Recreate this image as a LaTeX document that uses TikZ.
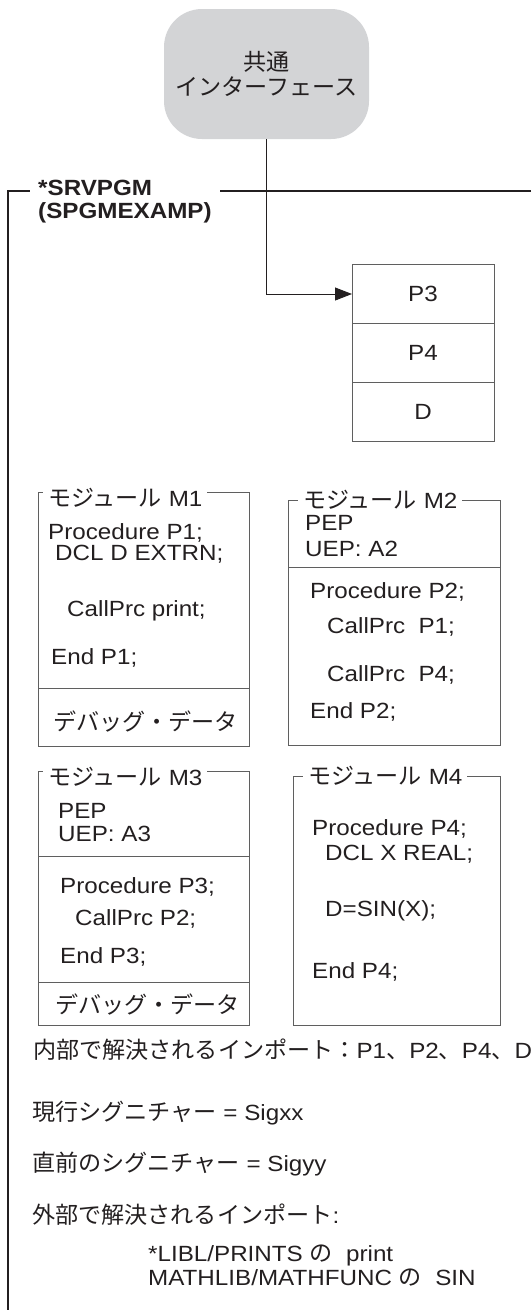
\documentclass[tikz,border=0pt]{standalone}
\usepackage{fontspec}
\setmainfont{Liberation Sans}[FakeStretch=1.1]
\newfontfamily\jp{Noto Sans CJK JP}[Scale=1.05]
\usetikzlibrary{positioning, arrows.meta}
\definecolor{ink}{HTML}{231F20}
\definecolor{rule}{HTML}{5F5F5F}
\definecolor{ifgray}{HTML}{D3D4D6}

\begin{document}
\begin{tikzpicture}[x=1pt,y=-1pt,font=\fontsize{22}{24}\selectfont,text=ink,
box/.style={draw=rule, line width=0.9pt, anchor=north west, inner sep=0pt, outer sep=0pt},
modtitle/.style={fill=white, inner xsep=5pt, inner ysep=1pt, anchor=west},
code/.style={anchor=base west, inner sep=0pt},
exp/.style={draw=rule, line width=0.9pt, minimum width=142pt, minimum height=59pt, inner sep=0pt, outer sep=0pt},
conn/.style={draw=ink, line width=0.9pt, -{Triangle[length=17pt,width=13pt]}}]
\useasboundingbox (0,0) rectangle (531,1310);
% interface and service program frame
\node[fill=ifgray, rounded corners=38pt, minimum width=205pt, minimum height=130pt, align=center, font=\jp\fontsize{22}{25}\selectfont] (iface) at (266.5,74) {共通\\インターフェース};
\coordinate (ftr) at (531,191); \coordinate (fbl) at (8,1310);
\draw[ink, line width=1.2pt] (ftr) -| (fbl);
\node[fill=white, anchor=north west, align=left, inner xsep=8pt, inner ysep=2pt, font=\bfseries\fontsize{22}{23}\selectfont] (srv) at (30,178) {*SRVPGM\\(SPGMEXAMP)};
% exports
\node[exp] (p3) at (423,294) {P3};
\node[exp, below=0pt of p3] (p4) {P4};
\node[exp, below=0pt of p4] (d) {D};
\draw[conn] (iface.south) |- (p3.west);
% modules
\node[box, minimum width=211pt, minimum height=254pt] (m1) at (38,492) {};
\node[box, minimum width=212pt, minimum height=245pt] (m2) at (288,500) {};
\node[box, minimum width=211pt, minimum height=254pt] (m3) at (38,771) {};
\node[box, minimum width=207pt, minimum height=249pt] (m4) at (293,776) {};
\draw[rule, line width=0.9pt] (m1.west |- 0,688) -- (m1.east |- 0,688);
\draw[rule, line width=0.9pt] (m2.west |- 0,567) -- (m2.east |- 0,567);
\draw[rule, line width=0.9pt] (m3.west |- 0,856) -- (m3.east |- 0,856);
\draw[rule, line width=0.9pt] (m3.west |- 0,982) -- (m3.east |- 0,982);
\node[modtitle] (m1t) at ([xshift=5pt,yshift=-6pt]m1.north west) {{\jp モジュール} M1\hspace{6pt}};
\node[modtitle] (m2t) at ([xshift=10pt]m2.north west) {{\jp モジュール} M2};
\node[modtitle] (m3t) at ([xshift=5pt,yshift=-6pt]m3.north west) {{\jp モジュール} M3\hspace{5pt}};
\node[modtitle] (m4t) at ([xshift=10pt]m4.north west) {{\jp モジュール} M4};
\foreach \n/\x/\y/\t in {a/48/539/{Procedure P1;}, b/55/560/{DCL D EXTRN;}, c/67/616/{CallPrc print;}, d/51/664/{End P1;}}
  \node[code] (m1\n) at (\x,\y) {\t};
\node[code] (m1dbg) at (53,730) {\jp デバッグ・データ};
\foreach \n/\x/\y/\t in {a/305/530/{PEP}, b/305/556/{UEP: A2}, c/310/598/{Procedure P2;}, d/327/633/{CallPrc\ \ P1;}, e/327/681/{CallPrc\ \ P4;}, f/310/718/{End P2;}}
  \node[code] (m2\n) at (\x,\y) {\t};
\foreach \n/\x/\y/\t in {a/58/818/{PEP}, b/58/841/{UEP: A3}, c/60/893/{Procedure P3;}, d/75/925/{CallPrc P2;}, e/60/963/{End P3;}}
  \node[code] (m3\n) at (\x,\y) {\t};
\node[code] (m3dbg) at (55,1013) {\jp デバッグ・データ};
\foreach \n/\x/\y/\t in {a/312/835/{Procedure P4;}, b/325/860/{DCL X REAL;}, c/325/916/{D=SIN(X);}, d/312/978/{End P4;}}
  \node[code] (m4\n) at (\x,\y) {\t};
% imports and signatures
\node[code] (intimp) at (33,1058) {{\jp 内部で解決されるインポート：}P1{\jp 、}P2{\jp 、}P4{\jp 、}D};
\node[code] (cursig) at (32,1120) {{\jp 現行シグニチャー} = Sigxx};
\node[code] (prevsig) at (32,1171) {{\jp 直前のシグニチャー} = Sigyy};
\node[code] (extimp) at (32,1223) {{\jp 外部で解決されるインポート}:};
\node[code] (ext1) at (148,1261) {*LIBL/PRINTS {\jp の}\ \ print};
\node[code] (ext2) at (148,1285) {MATHLIB/MATHFUNC {\jp の}\ \ SIN};
\end{tikzpicture}
\end{document}
